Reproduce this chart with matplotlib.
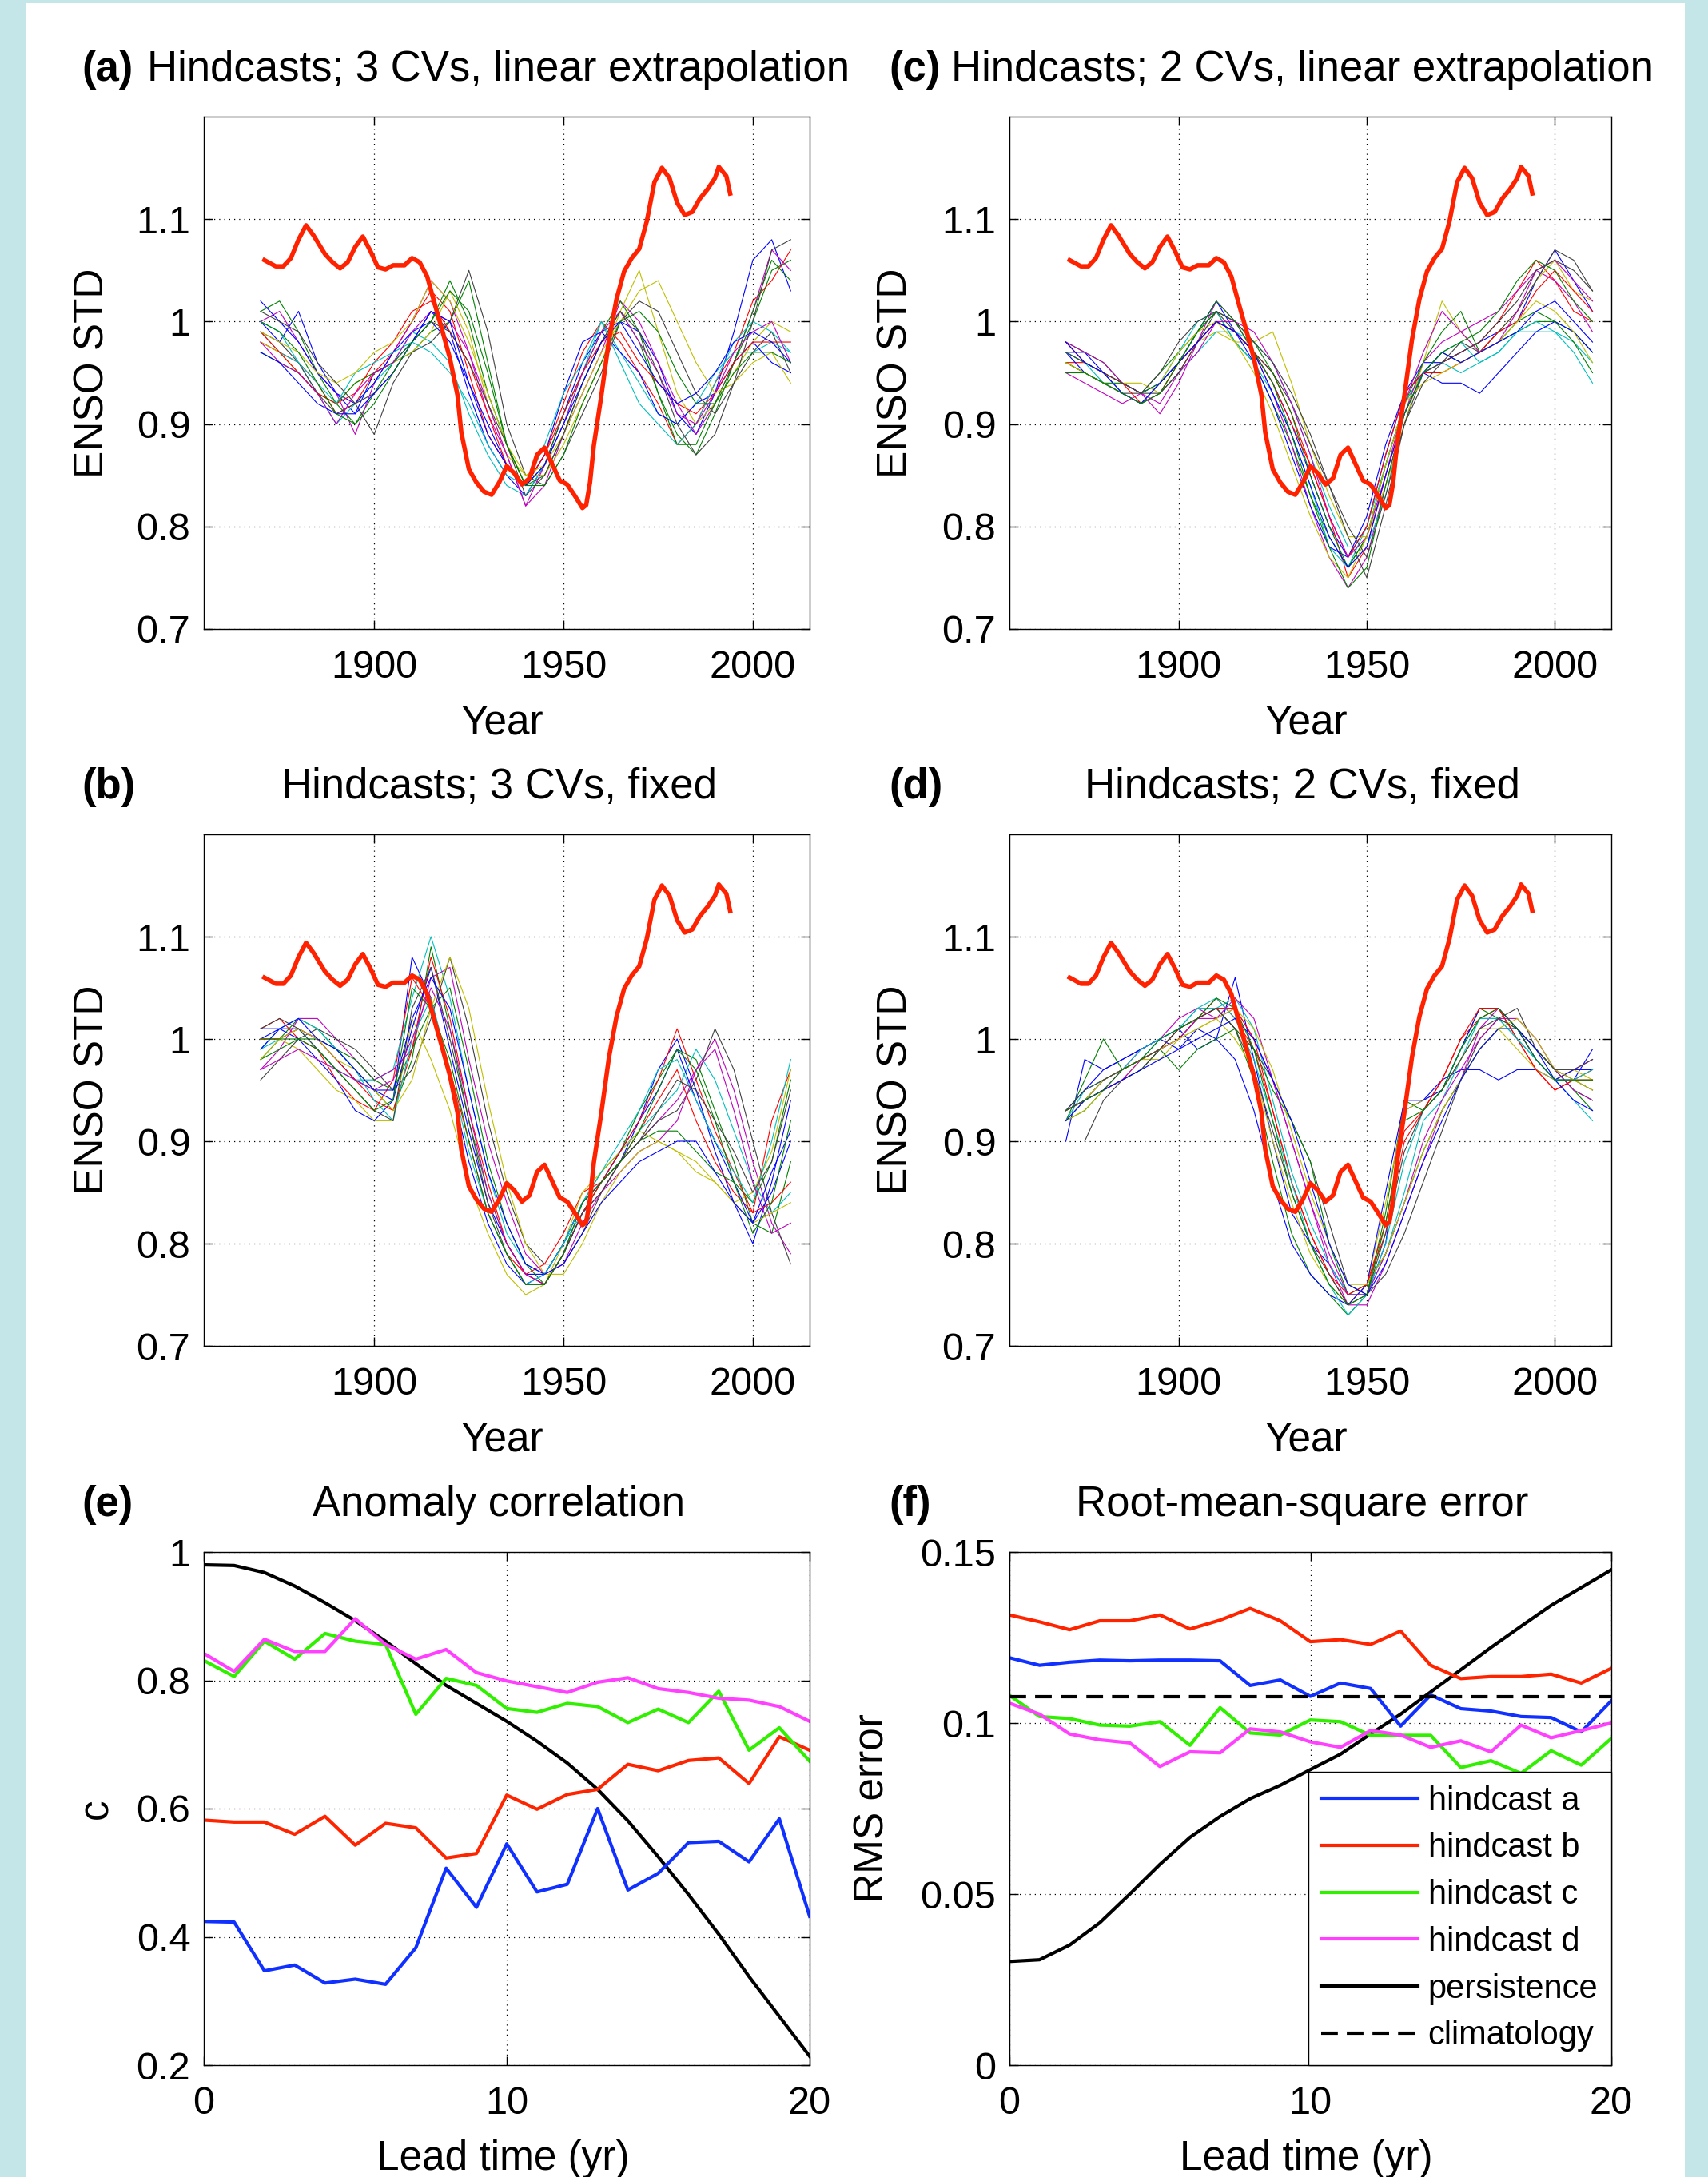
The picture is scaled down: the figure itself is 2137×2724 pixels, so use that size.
import numpy as np
import matplotlib.pyplot as plt
from matplotlib.patches import Rectangle
from matplotlib.lines import Line2D

plt.rcParams['font.family'] = ['Liberation Sans', 'DejaVu Sans']

# ---- observed ENSO std (thick red line, same in panels a-d)
obs_year = [1871, 1872, 1874, 1876, 1878, 1880, 1882, 1884, 1887, 1889, 1891, 1893, 1895,
            1897, 1899, 1901, 1903, 1905, 1908, 1910, 1912, 1914, 1916, 1918, 1920, 1922,
            1923, 1925, 1927, 1929, 1931, 1933, 1935, 1937, 1939, 1941, 1943, 1945, 1947,
            1949, 1951, 1953, 1955, 1956, 1957, 1958, 1960, 1962, 1964, 1966, 1968, 1970,
            1972, 1974, 1976, 1978, 1980, 1982, 1984, 1986, 1988, 1990, 1991, 1993, 1994]
obs_std = [1.060, 1.058, 1.054, 1.054, 1.062, 1.080, 1.094, 1.084, 1.066, 1.058, 1.052, 1.058,
           1.073, 1.083, 1.069, 1.053, 1.051, 1.055, 1.055, 1.062, 1.058, 1.044, 1.017, 0.991,
           0.964, 0.928, 0.892, 0.856, 0.843, 0.834, 0.831, 0.843, 0.859, 0.852, 0.841, 0.847,
           0.870, 0.877, 0.861, 0.845, 0.841, 0.830, 0.818, 0.821, 0.843, 0.879, 0.928, 0.982,
           1.022, 1.049, 1.062, 1.071, 1.098, 1.136, 1.150, 1.140, 1.116, 1.104, 1.107, 1.120,
           1.129, 1.140, 1.151, 1.142, 1.125]

# ---- hindcast ensemble members (ENSO std x 100), every 5 years 1870-2010
member_year = [1870, 1875, 1880, 1885, 1890, 1895, 1900, 1905, 1910, 1915, 1920, 1925, 1930,
               1935, 1940, 1945, 1950, 1955, 1960, 1965, 1970, 1975, 1980, 1985, 1990, 1995,
               2000, 2005, 2010]

members_a = [
    [100, 98, 101, 96, 93, 91, 95, 96, 98, 101, 99, 93, 88, 85, 83, 86, 91, 96, 99, 100, 99, 96, 91, 89, 93, 99, 106, 108, 103],
    [101, 102, 99, 95, 92, 90, 93, 96, 97, 99, 100, 104, 96, 88, 84, 85, 89, 94, 98, 101, 98, 93, 89, 87, 91, 96, 100, 105, 106],
    [98, 97, 96, 94, 91, 92, 95, 97, 100, 103, 101, 95, 89, 86, 84, 87, 92, 97, 100, 98, 95, 92, 88, 90, 94, 97, 102, 104, 107],
    [99, 97, 96, 93, 90, 92, 94, 96, 99, 98, 96, 91, 87, 84, 83, 86, 90, 95, 100, 97, 94, 91, 90, 92, 95, 97, 97, 98, 97],
    [100, 101, 98, 95, 93, 89, 94, 97, 100, 104, 102, 97, 91, 87, 82, 84, 89, 93, 97, 102, 100, 96, 92, 89, 92, 96, 101, 107, 105],
    [98, 97, 95, 93, 92, 94, 95, 96, 97, 99, 103, 99, 92, 87, 85, 85, 88, 92, 96, 101, 105, 99, 93, 90, 92, 95, 98, 100, 99],
    [99, 98, 96, 93, 91, 92, 89, 94, 97, 98, 100, 105, 99, 90, 85, 84, 87, 91, 95, 100, 102, 101, 97, 93, 91, 94, 97, 99, 95],
    [102, 100, 98, 95, 93, 92, 94, 97, 99, 100, 98, 94, 90, 86, 84, 87, 93, 98, 99, 97, 95, 91, 90, 92, 93, 96, 98, 96, 95],
    [97, 96, 95, 93, 92, 94, 95, 96, 98, 100, 104, 100, 93, 88, 84, 86, 91, 95, 99, 102, 99, 93, 88, 88, 92, 96, 101, 106, 104],
    [99, 97, 95, 93, 92, 93, 96, 98, 101, 102, 99, 96, 91, 86, 84, 87, 91, 95, 98, 99, 96, 94, 92, 91, 93, 96, 98, 98, 98],
    [100, 99, 96, 94, 92, 95, 96, 97, 98, 97, 95, 92, 88, 85, 84, 88, 93, 96, 100, 96, 92, 90, 88, 90, 94, 98, 100, 99, 97],
    [98, 96, 95, 93, 90, 93, 95, 96, 99, 101, 100, 97, 92, 87, 82, 86, 90, 95, 99, 101, 98, 95, 91, 90, 93, 97, 99, 100, 96],
    [99, 98, 97, 95, 94, 95, 97, 98, 100, 104, 102, 98, 93, 88, 85, 86, 89, 93, 97, 100, 103, 104, 100, 96, 93, 94, 96, 97, 94],
    [101, 100, 99, 96, 94, 92, 93, 95, 98, 100, 99, 96, 92, 88, 83, 85, 89, 94, 98, 101, 99, 95, 90, 87, 89, 94, 100, 107, 108],
    [97, 96, 94, 92, 91, 91, 93, 95, 98, 101, 100, 94, 89, 86, 84, 86, 90, 94, 98, 100, 97, 94, 92, 93, 95, 98, 99, 98, 96],
    [100, 99, 97, 94, 91, 90, 92, 95, 98, 100, 103, 101, 95, 88, 84, 84, 87, 92, 96, 100, 101, 99, 95, 92, 92, 95, 97, 97, 96],
]

members_b = [
    [100, 101, 101, 100, 98, 96, 95, 94, 108, 104, 96, 88, 82, 78, 76, 77, 80, 84, 86, 88, 92, 97, 100, 95, 89, 84, 80, 86, 94],
    [98, 100, 102, 101, 99, 97, 95, 93, 98, 109, 101, 92, 85, 80, 77, 76, 79, 84, 87, 89, 93, 96, 99, 98, 93, 88, 82, 81, 88],
    [101, 102, 100, 99, 96, 94, 93, 96, 106, 103, 97, 90, 83, 79, 77, 78, 81, 85, 86, 88, 91, 94, 97, 92, 88, 85, 83, 92, 97],
    [99, 100, 101, 99, 97, 96, 96, 97, 104, 110, 104, 95, 87, 81, 78, 77, 80, 83, 86, 89, 91, 93, 95, 99, 96, 91, 86, 83, 85],
    [97, 99, 102, 102, 100, 98, 96, 97, 99, 106, 107, 98, 90, 84, 79, 77, 78, 82, 85, 88, 90, 92, 94, 97, 100, 95, 88, 82, 79],
    [100, 100, 99, 97, 95, 94, 92, 92, 102, 98, 93, 86, 81, 77, 75, 76, 80, 85, 87, 89, 91, 90, 89, 88, 86, 84, 85, 89, 97],
    [96, 98, 100, 101, 100, 99, 97, 95, 97, 102, 108, 101, 92, 85, 80, 78, 78, 81, 85, 88, 90, 92, 93, 96, 101, 97, 90, 83, 78],
    [101, 101, 100, 98, 96, 93, 92, 94, 101, 107, 99, 91, 84, 80, 77, 77, 80, 84, 86, 89, 92, 95, 99, 94, 90, 86, 82, 85, 90],
    [98, 99, 100, 100, 99, 98, 96, 95, 99, 103, 105, 97, 88, 82, 78, 76, 79, 83, 86, 88, 90, 91, 91, 89, 87, 86, 84, 88, 96],
    [100, 100, 101, 100, 98, 96, 94, 93, 99, 108, 102, 93, 86, 80, 77, 76, 79, 83, 86, 89, 92, 96, 101, 96, 91, 87, 83, 84, 86],
    [99, 101, 102, 101, 99, 97, 94, 92, 100, 104, 97, 89, 83, 79, 76, 77, 80, 84, 87, 90, 93, 97, 98, 94, 90, 87, 84, 90, 98],
    [97, 98, 99, 98, 97, 96, 95, 96, 100, 105, 101, 93, 85, 80, 77, 76, 79, 83, 85, 87, 89, 90, 92, 97, 99, 93, 86, 81, 82],
    [98, 100, 101, 100, 98, 97, 95, 93, 96, 103, 108, 103, 94, 86, 80, 77, 77, 80, 84, 87, 89, 90, 89, 87, 86, 84, 82, 83, 84],
    [101, 102, 101, 99, 97, 95, 93, 92, 103, 107, 100, 92, 84, 79, 76, 76, 79, 83, 85, 88, 90, 93, 96, 95, 92, 89, 85, 88, 95],
    [99, 101, 102, 100, 99, 97, 95, 95, 102, 106, 103, 95, 87, 82, 78, 77, 78, 81, 84, 86, 88, 89, 90, 90, 87, 84, 82, 87, 91],
    [100, 100, 100, 99, 97, 95, 93, 94, 105, 103, 98, 90, 83, 79, 76, 76, 79, 84, 86, 88, 91, 95, 99, 97, 92, 86, 81, 84, 92],
]

members_c = [
    [97, 97, 95, 94, 93, 94, 96, 99, 102, 99, 97, 94, 90, 85, 80, 77, 80, 87, 93, 96, 96, 97, 98, 99, 100, 104, 107, 104, 101],
    [98, 97, 96, 94, 93, 95, 97, 99, 101, 98, 96, 92, 88, 83, 79, 76, 79, 86, 92, 95, 97, 96, 97, 98, 99, 100, 100, 99, 97],
    [96, 96, 95, 93, 92, 93, 95, 98, 100, 99, 97, 95, 91, 86, 81, 75, 78, 85, 91, 95, 96, 97, 98, 100, 103, 106, 104, 101, 100],
    [97, 96, 94, 93, 92, 94, 97, 100, 101, 98, 96, 93, 89, 84, 78, 76, 80, 86, 92, 95, 96, 95, 96, 97, 99, 100, 99, 98, 96],
    [95, 94, 93, 92, 93, 91, 94, 98, 102, 100, 97, 93, 88, 82, 77, 74, 77, 84, 91, 96, 98, 99, 100, 101, 103, 105, 104, 102, 99],
    [97, 96, 95, 94, 94, 93, 96, 98, 99, 98, 98, 99, 94, 88, 83, 79, 79, 84, 90, 96, 102, 99, 97, 99, 101, 104, 106, 103, 102],
    [96, 95, 94, 93, 93, 95, 98, 100, 101, 99, 97, 95, 92, 88, 84, 79, 75, 82, 90, 95, 96, 98, 97, 99, 101, 104, 107, 106, 103],
    [97, 95, 94, 93, 92, 94, 96, 98, 100, 99, 96, 92, 87, 82, 78, 77, 81, 88, 93, 95, 94, 94, 93, 95, 97, 99, 100, 99, 97],
    [96, 95, 94, 94, 93, 94, 96, 99, 101, 100, 98, 95, 91, 85, 80, 76, 79, 86, 92, 96, 99, 101, 97, 98, 100, 101, 100, 98, 95],
    [98, 96, 95, 94, 92, 93, 96, 98, 100, 99, 97, 94, 90, 86, 81, 77, 80, 87, 93, 95, 95, 96, 97, 99, 100, 103, 105, 103, 101],
    [97, 96, 95, 93, 92, 93, 95, 97, 99, 99, 98, 96, 92, 87, 82, 78, 78, 83, 91, 95, 97, 98, 96, 97, 99, 99, 99, 97, 94],
    [98, 97, 96, 94, 93, 92, 95, 97, 100, 100, 99, 96, 92, 87, 81, 77, 79, 85, 92, 97, 101, 99, 97, 98, 101, 105, 106, 104, 102],
    [96, 95, 94, 93, 92, 94, 97, 99, 100, 98, 95, 91, 86, 81, 77, 75, 79, 86, 92, 94, 95, 96, 97, 98, 100, 102, 101, 99, 96],
    [97, 96, 95, 94, 93, 93, 95, 98, 101, 100, 98, 96, 93, 89, 84, 80, 77, 83, 90, 94, 96, 97, 98, 100, 102, 105, 106, 105, 103],
    [98, 96, 95, 93, 92, 94, 96, 98, 100, 99, 97, 93, 89, 84, 79, 76, 78, 85, 91, 95, 97, 96, 97, 98, 99, 101, 102, 100, 98],
    [95, 95, 94, 93, 92, 93, 96, 99, 102, 100, 97, 94, 89, 83, 78, 74, 76, 84, 91, 95, 97, 98, 99, 101, 104, 106, 105, 102, 100],
]

members_d = [
    [90, 98, 97, 98, 99, 100, 101, 99, 100, 106, 98, 90, 83, 80, 78, 75, 75, 80, 93, 94, 96, 97, 97, 96, 97, 97, 96, 96, 99],
    [92, 93, 95, 96, 97, 99, 101, 102, 103, 101, 96, 88, 81, 77, 75, 73, 75, 83, 94, 93, 95, 99, 103, 102, 101, 99, 97, 95, 93],
    [93, 94, 96, 97, 98, 99, 100, 102, 104, 102, 99, 93, 86, 81, 77, 74, 76, 81, 90, 93, 96, 100, 102, 103, 100, 97, 95, 96, 97],
    [92, 95, 96, 97, 98, 100, 101, 103, 103, 104, 101, 94, 87, 82, 78, 75, 75, 79, 85, 92, 94, 98, 102, 102, 100, 98, 96, 94, 92],
    [93, 94, 95, 97, 99, 100, 102, 103, 102, 103, 100, 96, 90, 84, 78, 74, 74, 78, 83, 88, 93, 96, 101, 103, 101, 98, 96, 97, 98],
    [92, 93, 95, 96, 98, 98, 100, 101, 102, 100, 97, 90, 84, 79, 76, 74, 76, 84, 93, 94, 95, 98, 101, 101, 99, 97, 96, 97, 96],
    [np.nan, 90, 94, 96, 97, 99, 100, 102, 103, 101, 99, 96, 92, 88, 82, 76, 75, 77, 81, 86, 91, 96, 100, 102, 103, 99, 97, 96, 95],
    [93, 95, 97, 98, 99, 100, 99, 101, 100, 98, 93, 86, 80, 77, 75, 74, 76, 85, 94, 94, 95, 99, 103, 103, 101, 98, 96, 97, 97],
    [92, 96, 100, 97, 98, 99, 97, 99, 100, 101, 99, 95, 92, 88, 80, 75, 76, 79, 84, 89, 93, 96, 99, 101, 101, 99, 97, 95, 94],
    [93, 94, 96, 97, 98, 99, 101, 102, 103, 103, 100, 93, 86, 81, 77, 75, 76, 82, 91, 93, 96, 100, 103, 103, 100, 97, 95, 96, 96],
    [92, 94, 96, 97, 99, 100, 101, 103, 104, 102, 98, 92, 86, 80, 76, 73, 75, 80, 88, 93, 95, 99, 102, 102, 100, 98, 96, 96, 97],
    [93, 94, 95, 96, 98, 99, 100, 102, 102, 104, 102, 96, 90, 84, 79, 75, 75, 79, 84, 90, 94, 97, 100, 102, 102, 100, 97, 95, 94],
    [92, 94, 96, 97, 98, 99, 100, 101, 102, 103, 101, 97, 91, 85, 80, 76, 76, 79, 84, 89, 93, 96, 99, 101, 102, 100, 97, 96, 95],
    [93, 95, 96, 97, 98, 99, 101, 102, 103, 101, 97, 91, 85, 80, 77, 74, 75, 81, 89, 93, 95, 98, 101, 102, 101, 99, 97, 97, 98],
    [92, 94, 95, 96, 97, 98, 99, 100, 101, 102, 100, 96, 92, 86, 80, 76, 75, 78, 83, 88, 92, 96, 99, 101, 101, 99, 96, 94, 93],
    [93, 94, 95, 97, 98, 100, 101, 102, 104, 103, 99, 92, 85, 80, 76, 74, 75, 82, 92, 93, 95, 99, 102, 103, 101, 98, 96, 96, 96],
]

panel_letters = ['(a)', '(c)', '(b)', '(d)']
panel_titles = ['Hindcasts; 3 CVs, linear extrapolation', 'Hindcasts; 2 CVs, linear extrapolation',
                'Hindcasts; 3 CVs, fixed', 'Hindcasts; 2 CVs, fixed']
year_ticks = [1900, 1950, 2000]
std_ticks = [0.7, 0.8, 0.9, 1.0, 1.1]
std_ticklabels = ['0.7', '0.8', '0.9', '1', '1.1']

# ---- skill vs lead time
lead = [0, 1, 2, 3, 4, 5, 6, 7, 8, 9, 10, 11, 12, 13, 14, 15, 16, 17, 18, 19, 20]
corr_a = [0.424, 0.423, 0.347, 0.356, 0.328, 0.334, 0.326, 0.383, 0.507, 0.446, 0.545,
          0.470, 0.482, 0.600, 0.473, 0.499, 0.547, 0.549, 0.517, 0.584, 0.432]
corr_b = [0.582, 0.579, 0.579, 0.560, 0.588, 0.543, 0.577, 0.570, 0.523, 0.530, 0.621,
          0.599, 0.622, 0.630, 0.669, 0.659, 0.675, 0.679, 0.639, 0.712, 0.691]
corr_c = [0.831, 0.806, 0.861, 0.833, 0.873, 0.861, 0.856, 0.747, 0.803, 0.792, 0.756,
          0.750, 0.764, 0.759, 0.734, 0.755, 0.734, 0.783, 0.691, 0.726, 0.674]
corr_d = [0.842, 0.814, 0.864, 0.845, 0.845, 0.896, 0.856, 0.833, 0.848, 0.812, 0.799,
          0.790, 0.781, 0.797, 0.804, 0.787, 0.781, 0.772, 0.769, 0.759, 0.736]
corr_pers = [0.980, 0.979, 0.968, 0.947, 0.921, 0.893, 0.861, 0.826, 0.792, 0.764, 0.736,
             0.705, 0.671, 0.630, 0.581, 0.525, 0.466, 0.404, 0.338, 0.276, 0.214]

rms_a = [0.1191, 0.1169, 0.1178, 0.1184, 0.1182, 0.1184, 0.1184, 0.1182, 0.1110, 0.1126, 0.1078,
         0.1117, 0.1101, 0.0991, 0.1082, 0.1042, 0.1035, 0.1019, 0.1016, 0.0974, 0.1065]
rms_b = [0.1316, 0.1296, 0.1273, 0.1299, 0.1299, 0.1316, 0.1275, 0.1301, 0.1335, 0.1299, 0.1238,
         0.1244, 0.1230, 0.1269, 0.1169, 0.1130, 0.1136, 0.1136, 0.1143, 0.1117, 0.1160]
rms_c = [0.1081, 0.1019, 0.1013, 0.0994, 0.0991, 0.1004, 0.0935, 0.1045, 0.0971, 0.0965, 0.1009,
         0.1004, 0.0964, 0.0964, 0.0964, 0.0870, 0.0890, 0.0853, 0.0919, 0.0877, 0.0955]
rms_d = [0.1058, 0.1026, 0.0968, 0.0951, 0.0942, 0.0873, 0.0916, 0.0913, 0.0983, 0.0974, 0.0945,
         0.0929, 0.0978, 0.0965, 0.0929, 0.0948, 0.0916, 0.0994, 0.0957, 0.0978, 0.1000]
rms_pers = [0.0303, 0.0308, 0.0351, 0.0416, 0.0500, 0.0587, 0.0666, 0.0727, 0.0779, 0.0818, 0.0864,
            0.0909, 0.0968, 0.1026, 0.1091, 0.1156, 0.1221, 0.1283, 0.1344, 0.1396, 0.1448]
rms_clim = 0.1078

member_colors = [(0, 0, 1), (0, 0.5, 0), (1, 0, 0), (0, 0.75, 0.75),
                 (0.75, 0, 0.75), (0.75, 0.75, 0), (0.25, 0.25, 0.25)]
c_a, c_b, c_c, c_d = '#1030ff', '#ff2400', '#30f000', '#ff40ff'
obs_color = '#ff2200'

FS_TICK = 35
FS_LAB = 37
FS_TITLE = 38

fig = plt.figure(figsize=(21.37, 27.24), dpi=100, facecolor='#c4e6e9')
fig.patches.append(Rectangle((33 / 2137, 0), (2108 - 33) / 2137, 1 - 4 / 2724,
                             transform=fig.transFigure, facecolor='white',
                             edgecolor='none', zorder=-5))

L_left, L_w = 255 / 2137, 758 / 2137
R_left, R_w = 1263 / 2137, 753 / 2137
rows = [(1 - 787 / 2724, 641 / 2724), (1 - 1684 / 2724, 640 / 2724), (1 - 2584 / 2724, 642 / 2724)]

ax_a = fig.add_axes([L_left, rows[0][0], L_w, rows[0][1]])
ax_c = fig.add_axes([R_left, rows[0][0], R_w, rows[0][1]])
ax_b = fig.add_axes([L_left, rows[1][0], L_w, rows[1][1]])
ax_d = fig.add_axes([R_left, rows[1][0], R_w, rows[1][1]])
ax_e = fig.add_axes([L_left, rows[2][0], L_w, rows[2][1]])
ax_f = fig.add_axes([R_left, rows[2][0], R_w, rows[2][1]])


def style(ax):
    ax.tick_params(direction='in', length=8, width=1, top=True, right=True,
                   labelsize=FS_TICK)
    ax.tick_params(axis='y', pad=12)
    ax.tick_params(axis='x', pad=19)
    ax.grid(True, color='k', linestyle=(0, (1, 4)), linewidth=0.9)
    ax.set_axisbelow(True)
    for s in ax.spines.values():
        s.set_linewidth(1.0)


def header(ax, letter, title, left_col):
    lx = -153 if left_col else -151
    ax.annotate(letter, xy=(0, 1), xycoords='axes fraction', xytext=(lx, 45),
                textcoords='offset pixels', ha='left', va='baseline',
                fontsize=FS_TITLE, fontweight='bold')
    ax.annotate(title, xy=(0.5, 1), xycoords='axes fraction', xytext=(-10, 45),
                textcoords='offset pixels', ha='center', va='baseline', fontsize=FS_TITLE)


def labels(ax, xlab, ylab, ylab_dx):
    ax.annotate(xlab, xy=(0.5, 0), xycoords='axes fraction', xytext=(-5, -118),
                textcoords='offset pixels', ha='center', va='center', fontsize=FS_LAB)
    ax.annotate(ylab, xy=(0, 0.5), xycoords='axes fraction', xytext=(ylab_dx, 0),
                textcoords='offset pixels', ha='center', va='center', rotation=90,
                fontsize=FS_LAB)


panels = [(ax_a, members_a), (ax_c, members_c), (ax_b, members_b), (ax_d, members_d)]
for i, (ax, members) in enumerate(panels):
    for j, m in enumerate(members):
        ax.plot(member_year, np.array(m, dtype=float) / 100,
                color=member_colors[j % len(member_colors)], lw=0.8)
    ax.plot(obs_year, obs_std, color=obs_color, lw=4, solid_joinstyle='round')
    ax.set_xlim(1855, 2015)
    ax.set_ylim(0.7, 1.2)
    ax.set_xticks(year_ticks)
    ax.set_xticklabels([str(y) for y in year_ticks])
    ax.set_yticks(std_ticks)
    ax.set_yticklabels(std_ticklabels)
    style(ax)
    left_col = (i % 2 == 0)
    header(ax, panel_letters[i], panel_titles[i], left_col)
    labels(ax, 'Year', 'ENSO STD', -139 if left_col else -142)

# (e) anomaly correlation
ax_e.plot(lead, corr_pers, color='k', lw=3)
ax_e.plot(lead, corr_a, color=c_a, lw=3)
ax_e.plot(lead, corr_b, color=c_b, lw=3)
ax_e.plot(lead, corr_c, color=c_c, lw=3)
ax_e.plot(lead, corr_d, color=c_d, lw=3)
ax_e.set_xlim(0, 20)
ax_e.set_ylim(0.2, 1.0)
ax_e.set_xticks([0, 10, 20])
ax_e.set_xticklabels(['0', '10', '20'])
ax_e.set_yticks([0.2, 0.4, 0.6, 0.8, 1.0])
ax_e.set_yticklabels(['0.2', '0.4', '0.6', '0.8', '1'])
style(ax_e)
header(ax_e, '(e)', 'Anomaly correlation', True)
labels(ax_e, 'Lead time (yr)', 'c', -134)

# (f) rms error
ax_f.plot(lead, rms_pers, color='k', lw=3)
ax_f.plot(lead, rms_a, color=c_a, lw=3)
ax_f.plot(lead, rms_b, color=c_b, lw=3)
ax_f.plot(lead, rms_c, color=c_c, lw=3)
ax_f.plot(lead, rms_d, color=c_d, lw=3)
ax_f.axhline(rms_clim, color='k', lw=3, linestyle=(0, (5, 2.7)))
ax_f.set_xlim(0, 20)
ax_f.set_ylim(0, 0.15)
ax_f.set_xticks([0, 10, 20])
ax_f.set_xticklabels(['0', '10', '20'])
ax_f.set_yticks([0, 0.05, 0.1, 0.15])
ax_f.set_yticklabels(['0', '0.05', '0.1', '0.15'])
style(ax_f)
header(ax_f, '(f)', 'Root-mean-square error', False)
labels(ax_f, 'Lead time (yr)', 'RMS error', -171)

handles = [Line2D([], [], color=c_a, lw=3), Line2D([], [], color=c_b, lw=3),
           Line2D([], [], color=c_c, lw=3), Line2D([], [], color=c_d, lw=3),
           Line2D([], [], color='k', lw=3), Line2D([], [], color='k', lw=3, linestyle=(0, (5, 2.7)))]
names = ['hindcast a', 'hindcast b', 'hindcast c', 'hindcast d', 'persistence', 'climatology']
leg = ax_f.legend(handles, names, loc='lower right', borderaxespad=0, fancybox=False,
                  edgecolor='k', framealpha=1, fontsize=30, handlelength=2.9,
                  handletextpad=0.3, labelspacing=0.45, borderpad=0.4)
leg.get_frame().set_linewidth(1.0)

fig.savefig('out.png', dpi=100, facecolor=fig.get_facecolor())
